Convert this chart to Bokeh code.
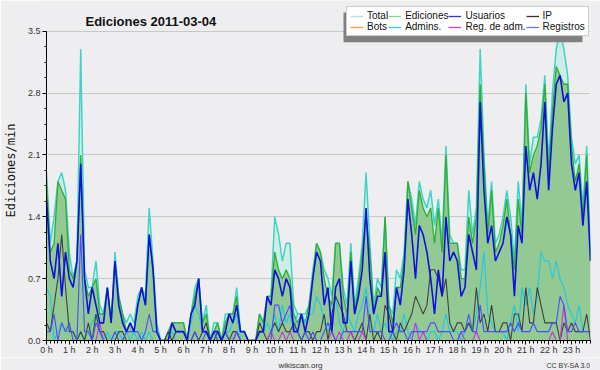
from bokeh.plotting import figure
from bokeh.layouts import column
from bokeh.models import (ColumnDataSource, Range1d, FixedTicker, NumeralTickFormatter,
                          Legend, LegendItem, Label, BoxAnnotation)
from bokeh.embed import file_html
from bokeh.resources import INLINE

# ---- data: 10-minute slots of 2011-03-04, edits per minute ----
slots = list(range(144))
hour_labels = [f"{h} h" for h in range(24)]

total = [1.9, 1.1, 1.4, 1.8, 1.9, 1.7, 1.0, 0.7, 0.9, 3.3, 0.8, 0.6,
         0.6, 0.9, 0.4, 0.3, 0.6, 0.2, 1.0, 0.5, 0.3, 0.2, 0.3, 0.2,
         0.5, 0.6, 0.5, 1.5, 0.9, 0.2, 0.0, 0.0, 0.1, 0.2, 0.2, 0.2,
         0.2, 0.0, 0.3, 0.6, 0.7, 0.2, 0.4, 0.0, 0.2, 0.2, 0.0, 0.3,
         0.3, 0.3, 0.6, 0.1, 0.1, 0.0, 0.0, 0.0, 0.3, 0.2, 0.5, 0.5,
         1.4, 1.2, 0.9, 1.1, 1.1, 0.4, 0.3, 0.3, 0.3, 0.4, 0.8, 1.1,
         1.0, 0.8, 0.7, 0.5, 1.1, 1.1, 0.6, 0.4, 1.1, 0.4, 0.7, 1.1,
         1.9, 1.1, 0.4, 0.7, 0.6, 1.4, 0.4, 0.3, 0.8, 0.7, 1.0, 1.8,
         1.6, 1.3, 1.8, 1.6, 1.5, 1.7, 1.3, 1.6, 1.1, 2.2, 1.2, 1.1,
         1.1, 0.8, 0.8, 1.7, 1.2, 1.5, 3.3, 2.1, 1.3, 1.8, 1.1, 1.2,
         1.4, 1.7, 1.4, 0.9, 1.8, 1.3, 2.9, 2.0, 2.3, 2.3, 2.5, 3.0,
         2.0, 2.8, 3.3, 3.5, 3.3, 3.0, 2.3, 2.0, 2.1, 1.5, 2.2, 1.0]

ediciones = [1.8, 1.0, 1.1, 1.8, 1.7, 1.6, 0.8, 0.7, 0.9, 2.1, 0.7, 0.5,
             0.6, 0.7, 0.3, 0.3, 0.6, 0.2, 0.9, 0.5, 0.3, 0.1, 0.2, 0.1,
             0.4, 0.6, 0.4, 1.2, 0.8, 0.1, 0.0, 0.0, 0.1, 0.2, 0.2, 0.2,
             0.2, 0.0, 0.3, 0.5, 0.7, 0.2, 0.3, 0.0, 0.1, 0.2, 0.0, 0.2,
             0.3, 0.3, 0.5, 0.1, 0.1, 0.0, 0.0, 0.0, 0.3, 0.2, 0.5, 0.5,
             1.0, 0.8, 0.7, 0.8, 0.7, 0.3, 0.2, 0.3, 0.2, 0.4, 0.7, 1.1,
             1.0, 0.7, 0.5, 0.4, 1.1, 1.1, 0.5, 0.3, 1.0, 0.3, 0.6, 1.0,
             1.4, 1.0, 0.3, 0.6, 0.5, 1.4, 0.4, 0.2, 0.6, 0.6, 0.9, 1.8,
             1.5, 1.2, 1.7, 1.5, 1.4, 1.5, 1.1, 1.5, 1.0, 2.1, 1.1, 1.1,
             1.1, 0.7, 0.7, 1.4, 1.1, 1.4, 2.9, 2.0, 1.2, 1.7, 1.0, 1.1,
             1.3, 1.6, 1.2, 0.8, 1.6, 1.2, 2.8, 1.9, 2.1, 2.2, 2.4, 2.9,
             1.9, 2.6, 3.1, 3.0, 2.9, 2.9, 2.2, 1.8, 2.0, 1.4, 2.1, 0.9]

usuarios = [1.6, 0.9, 0.7, 1.1, 0.5, 1.0, 0.7, 0.6, 0.9, 2.0, 0.7, 0.3,
            0.6, 0.4, 0.2, 0.2, 0.6, 0.2, 0.9, 0.4, 0.2, 0.1, 0.2, 0.1,
            0.4, 0.6, 0.4, 1.2, 0.8, 0.1, 0.0, 0.0, 0.0, 0.2, 0.1, 0.1,
            0.1, 0.0, 0.3, 0.4, 0.7, 0.1, 0.1, 0.0, 0.1, 0.1, 0.0, 0.1,
            0.3, 0.2, 0.4, 0.1, 0.1, 0.0, 0.0, 0.0, 0.1, 0.1, 0.5, 0.4,
            0.8, 0.7, 0.5, 0.7, 0.6, 0.1, 0.1, 0.3, 0.1, 0.3, 0.7, 1.0,
            0.9, 0.4, 0.6, 0.1, 0.6, 0.7, 0.2, 0.2, 0.9, 0.3, 0.5, 0.8,
            1.5, 0.7, 0.3, 0.5, 0.5, 1.0, 0.1, 0.1, 0.6, 0.4, 0.8, 1.6,
            1.2, 0.7, 1.3, 1.2, 1.0, 0.7, 0.3, 0.8, 0.5, 1.4, 0.9, 1.0,
            0.9, 0.5, 0.6, 1.2, 1.0, 0.8, 2.7, 1.7, 1.1, 1.3, 0.9, 1.0,
            1.1, 1.4, 1.2, 0.5, 1.3, 1.1, 2.2, 1.7, 1.9, 1.6, 2.0, 2.7,
            1.7, 2.4, 2.9, 3.0, 2.7, 2.8, 2.0, 1.7, 1.9, 1.3, 1.8, 0.9]

ip = [0.2, 0.1, 0.4, 0.7, 1.2, 0.6, 0.1, 0.1, 0.0, 0.1, 0.0, 0.2,
      0.0, 0.3, 0.1, 0.1, 0.0, 0.0, 0.0, 0.1, 0.1, 0.0, 0.0, 0.0,
      0.0, 0.0, 0.0, 0.0, 0.0, 0.0, 0.0, 0.0, 0.1, 0.0, 0.1, 0.1,
      0.1, 0.0, 0.0, 0.1, 0.0, 0.1, 0.2, 0.0, 0.0, 0.1, 0.0, 0.1,
      0.0, 0.1, 0.1, 0.0, 0.0, 0.0, 0.0, 0.0, 0.2, 0.1, 0.0, 0.1,
      0.2, 0.1, 0.2, 0.1, 0.1, 0.2, 0.1, 0.0, 0.1, 0.1, 0.0, 0.1,
      0.1, 0.3, 0.0, 0.3, 0.5, 0.4, 0.3, 0.1, 0.1, 0.0, 0.1, 0.2,
      0.0, 0.3, 0.0, 0.1, 0.0, 0.4, 0.3, 0.1, 0.0, 0.2, 0.1, 0.2,
      0.3, 0.5, 0.4, 0.3, 0.4, 0.8, 0.8, 0.7, 0.5, 0.7, 0.2, 0.1,
      0.2, 0.2, 0.1, 0.2, 0.1, 0.6, 0.2, 0.3, 0.1, 0.4, 0.1, 0.1,
      0.2, 0.2, 0.0, 0.3, 0.3, 0.1, 0.6, 0.2, 0.2, 0.6, 0.4, 0.2,
      0.2, 0.2, 0.2, 0.0, 0.2, 0.1, 0.2, 0.1, 0.1, 0.1, 0.3, 0.0]

bots = [0.0] * 144

admins = [0.6, 0.5, 0.0, 0.1, 0.2, 0.1, 0.1, 0.1, 0.0, 0.1, 0.0, 0.1,
          0.2, 0.3, 0.1, 0.0, 0.1, 0.0, 0.1, 0.1, 0.0, 0.1, 0.0, 0.1,
          0.0, 0.1, 0.0, 0.1, 0.0, 0.0, 0.0, 0.0, 0.0, 0.1, 0.0, 0.0,
          0.0, 0.0, 0.2, 0.4, 0.3, 0.1, 0.1, 0.0, 0.0, 0.1, 0.0, 0.1,
          0.1, 0.2, 0.3, 0.0, 0.0, 0.0, 0.0, 0.0, 0.1, 0.1, 0.2, 0.1,
          0.3, 0.1, 0.4, 0.2, 0.3, 0.1, 0.3, 0.3, 0.2, 0.3, 0.3, 0.5,
          0.4, 0.2, 0.1, 0.2, 0.5, 0.2, 0.1, 0.3, 0.2, 0.1, 0.3, 0.4,
          0.6, 0.2, 0.1, 0.3, 0.1, 0.2, 0.1, 0.0, 0.1, 0.1, 0.3, 0.1,
          0.0, 0.2, 0.1, 0.1, 0.0, 0.1, 0.1, 0.0, 0.1, 0.3, 0.1, 0.1,
          0.1, 0.0, 0.1, 0.2, 0.1, 0.3, 0.6, 1.0, 0.3, 0.2, 0.1, 0.1,
          0.1, 0.0, 0.2, 0.4, 0.1, 0.6, 0.4, 0.6, 0.3, 0.5, 1.0, 0.9,
          0.9, 0.7, 0.9, 0.7, 0.6, 0.4, 0.3, 0.2, 0.4, 0.1, 0.1, 0.1]

reg_adm = [0.0] * 14 + [0.2] + [0.0] * 35 + [0.1] + [0.0] * 8 + [0.1, 0.0, 0.0, 0.1, 0.0, 0.1] + \
          [0.0] * 10 + [0.1, 0.0, 0.1, 0.0, 0.0, 0.1, 0.0, 0.0, 0.1] + [0.0] * 13 + \
          [0.2, 0.0, 0.1] + [0.0] * 9 + [0.1, 0.0, 0.0, 0.0, 0.1] + [0.0] * 19 + [0.1, 0.0, 0.0, 0.4] + [0.0] * 7

registros = [0.1, 0.1, 0.3, 0.0, 0.2, 0.1, 0.2, 0.0, 0.0, 1.2, 0.1, 0.1,
             0.0, 0.2, 0.1, 0.0, 0.0, 0.0, 0.1, 0.0, 0.0, 0.1, 0.1, 0.1,
             0.1, 0.0, 0.1, 0.3, 0.1, 0.1, 0.0, 0.0, 0.0, 0.0, 0.0, 0.0,
             0.0, 0.0, 0.0, 0.1, 0.0, 0.0, 0.1, 0.0, 0.1, 0.0, 0.0, 0.1,
             0.0, 0.0, 0.1, 0.0, 0.0, 0.0, 0.0, 0.0, 0.0, 0.0, 0.0, 0.0,
             0.4, 0.4, 0.2, 0.3, 0.4, 0.1, 0.1, 0.0, 0.1, 0.0, 0.1, 0.0,
             0.0, 0.1, 0.2, 0.1, 0.0, 0.0, 0.1, 0.1, 0.1, 0.1, 0.1, 0.1,
             0.5, 0.1, 0.1, 0.1, 0.1, 0.0, 0.0, 0.1, 0.2, 0.1, 0.1, 0.0,
             0.1, 0.1, 0.1, 0.1, 0.1, 0.2, 0.2, 0.1, 0.1, 0.1, 0.1, 0.0,
             0.0, 0.1, 0.1, 0.3, 0.1, 0.1, 0.4, 0.1, 0.1, 0.1, 0.1, 0.1,
             0.1, 0.1, 0.2, 0.1, 0.2, 0.1, 0.1, 0.1, 0.2, 0.1, 0.1, 0.1,
             0.1, 0.2, 0.2, 0.5, 0.4, 0.1, 0.1, 0.2, 0.1, 0.1, 0.1, 0.1]

src = ColumnDataSource(dict(x=slots, total=total, ediciones=ediciones, usuarios=usuarios,
                            ip=ip, bots=bots, admins=admins, reg_adm=reg_adm, registros=registros,
                            blank=[float("nan")] * len(slots)))

# ---- layout constants (pixels) ----
W, H_MAIN, H_FOOT = 600, 357, 13
FL, FR, FB = 46, 590, 343          # frame left / right / bottom (value 0)
Y_TOP_PX = 31                      # pixel row of the 3.5 gridline
Y_MAX = 3.5
X_MAX = 143
ppu = (FB - Y_TOP_PX) / Y_MAX
ppx = (FR - FL) / X_MAX


def dx(px):
    return (px - FL) / ppx


def dy(py):
    return (FB - py) / ppu


bg = "#eeeef0"
p = figure(width=W, height=H_MAIN, output_backend="svg", toolbar_location=None, title_location=None,
           x_range=Range1d(0, X_MAX), y_range=Range1d(0, dy(0)),
           min_border_left=FL, min_border_right=W - FR, min_border_top=0, min_border_bottom=H_MAIN - FB)
p.background_fill_color = bg
p.border_fill_color = bg
p.outline_line_color = None
p.xgrid.visible = False
p.ygrid.grid_line_color = "#c8c8c8"

# areas
p.varea(x="x", y1=0, y2="total", source=src, fill_color="#cdeee6")
p.varea(x="x", y1=0, y2="ediciones", source=src, fill_color="#93c993")
# lines
p.line("x", "total", source=src, line_color="#3fd3c8", line_width=1.5)
p.line("x", "ediciones", source=src, line_color="#2fae2f", line_width=1.3)
p.line("x", "bots", source=src, line_color="#ff9922", line_width=1)
p.line("x", "admins", source=src, line_color="#28c8dc", line_width=1.2)
p.line("x", "ip", source=src, line_color="#404040", line_width=1.1)
p.line("x", "reg_adm", source=src, line_color="#cc33dd", line_width=1.1)
p.line("x", "registros", source=src, line_color="#4d4dff", line_width=1.1)
p.line("x", "usuarios", source=src, line_color="#1010e0", line_width=1.6)

# axes
p.yaxis.ticker = FixedTicker(ticks=[k * 0.7 for k in range(6)],
                             minor_ticks=[k * 0.175 for k in range(21)])
p.yaxis.formatter = NumeralTickFormatter(format="0.0")
p.yaxis.bounds = (0, Y_MAX)
p.xaxis.ticker = FixedTicker(ticks=list(range(0, 144, 6)), minor_ticks=list(range(144)))
p.xaxis.major_label_overrides = {6 * h: lab for h, lab in enumerate(hour_labels)}
for ax in (p.xaxis, p.yaxis):
    ax.axis_line_color = "black"
    ax.major_tick_line_color = "black"
    ax.minor_tick_line_color = "black"
    ax.major_tick_in = 0
    ax.minor_tick_in = 0
    ax.major_label_text_font = "Liberation Sans"
    ax.major_label_text_font_size = "9px"
    ax.major_label_text_color = "#333333"
p.yaxis.major_tick_out = 4
p.yaxis.minor_tick_out = 2
p.yaxis.major_label_standoff = 2
p.xaxis.major_tick_out = 4
p.xaxis.minor_tick_out = 3
p.xaxis.major_label_standoff = 0
p.yaxis.axis_label = "Ediciones/min"
p.yaxis.axis_label_text_font = "DejaVu Sans Mono"
p.yaxis.axis_label_text_font_size = "12px"
p.yaxis.axis_label_text_font_style = "normal"
p.yaxis.axis_label_text_color = "#111111"
p.yaxis.axis_label_standoff = 7

# title
p.add_layout(Label(x=dx(85), y=dy(21), text="Ediciones  2011-03-04", text_font="Liberation Sans",
                   text_font_size="13px", text_font_style="bold", text_color="#111111",
                   text_baseline="alphabetic"))

# legend with a drop shadow
names = ["Total", "Ediciones", "Usuarios", "IP", "Bots", "Admins.", "Reg. de adm.", "Registros"]
leg_colors = ["#a8e8e0", "#88d888", "#3333cc", "#333333", "#ff9933", "#33ccdd", "#cc44dd", "#7070ee"]
dummies = [p.line("x", "blank", source=src, line_color=c, line_width=1.3) for c in leg_colors]

LEG_L, LEG_T, LEG_R, LEG_B = 346, 9, 585, 39
p.add_layout(BoxAnnotation(left=dx(LEG_L - 3), right=dx(LEG_R - 3), top=dy(LEG_T + 3), bottom=dy(LEG_B + 3),
                           fill_color="#808080", fill_alpha=1, line_color=None))
legend = Legend(items=[LegendItem(label=n, renderers=[d]) for n, d in zip(names, dummies)],
                location=(LEG_L - FL, FB - LEG_B), orientation="horizontal", ncols=4,
                label_text_font="Liberation Sans", label_text_font_size="10px",
                label_text_line_height=1.0, label_height=8, glyph_height=8, glyph_width=13,
                label_standoff=4, padding=3, spacing=0, margin=0,
                label_text_color="#111111", background_fill_color="#ffffff",
                background_fill_alpha=1, border_line_color="#999999")
p.add_layout(legend, "center")

# footer strip (its frame lines up with the main frame, so x is in page pixels)
f = figure(width=W, height=H_FOOT, output_backend="svg", toolbar_location=None, title_location=None,
           x_range=Range1d(FL, FR), y_range=Range1d(0, H_FOOT), x_axis_type=None, y_axis_type=None,
           min_border_left=0, min_border_right=0, min_border_top=0, min_border_bottom=0)
f.background_fill_color = bg
f.border_fill_color = bg
f.outline_line_color = None
f.grid.visible = False
f.add_layout(Label(x=300, y=5, text="wikiscan.org", text_font="Liberation Sans",
                   text_font_size="8px", text_align="center", text_baseline="alphabetic",
                   text_color="#333333"))
f.add_layout(Label(x=590, y=5, text="CC BY-SA 3.0", text_font="Liberation Sans",
                   text_font_size="7px", text_align="right", text_baseline="alphabetic",
                   text_color="#333333"))

open("out.html", "w").write(file_html(column(p, f, spacing=0), INLINE))
